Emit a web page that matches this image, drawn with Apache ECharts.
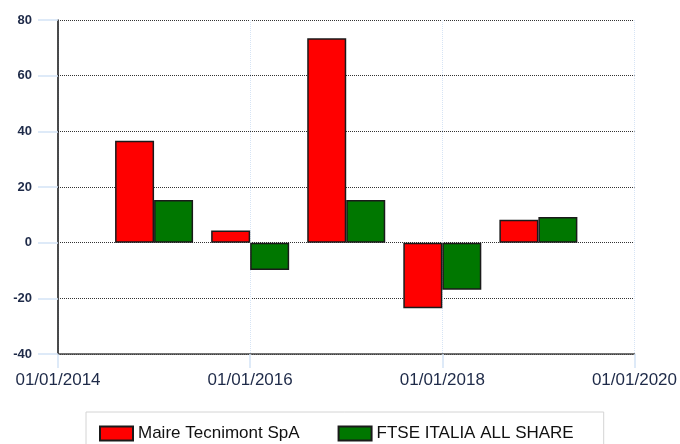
<!DOCTYPE html>
<html>
<head>
<meta charset="utf-8">
<script src="https://cdn.jsdelivr.net/npm/echarts@6/dist/echarts.min.js"></script>
<style>
  html, body { margin: 0; padding: 0; background: #fff; }
  #main { width: 680px; height: 444px; }
</style>
</head>
<body>
<div id="main"></div>
<script>
    // yearly performance, bars placed at 01/01 of each year
    var years = [2015, 2016, 2017, 2018, 2019];
    var maire = [36.6, 4.4, 73.4, -23.6, 8.2];
    var ftse = [15.3, -9.8, 15.3, -16.9, 9.2];
    var seriesNames = ['Maire Tecnimont SpA', 'FTSE ITALIA ALL SHARE'];

    function pairs(vals) {
        return years.map(function (y, i) { return [y, vals[i]]; });
    }

    var myChart = echarts.init(document.getElementById('main'));
    var option = {
        animation: false,
        textStyle: { fontFamily: 'Liberation Sans' },
        grid: { left: 58, top: 20, right: 44, bottom: 90 },
        legend: {
            data: seriesNames,
            icon: 'rect',
            left: 86,
            top: 412,
            padding: [13, 30, 13, 13],
            itemGap: 38,
            itemWidth: 33,
            itemHeight: 14,
            borderColor: '#d4d4d4',
            borderWidth: 1,
            textStyle: { fontSize: 17, color: '#111', fontFamily: 'Liberation Sans' }
        },
        xAxis: {
            type: 'value',
            min: 2014,
            max: 2020,
            interval: 2,
            axisLine: { onZero: false, lineStyle: { color: '#444', width: 1.5 } },
            axisTick: { show: true, length: 14, lineStyle: { color: '#d3e3f6', width: 1.5 } },
            axisLabel: {
                margin: 18,
                fontSize: 17,
                color: '#1e2a48',
                formatter: function (v) { return '01/01/' + v; }
            },
            splitLine: { show: true, lineStyle: { color: '#d6e4f5', type: 'dotted', width: 1 } }
        },
        yAxis: {
            type: 'value',
            min: -40,
            max: 80,
            interval: 20,
            axisLine: { show: true, onZero: false, lineStyle: { color: '#111', width: 1.5 } },
            axisTick: { show: true, length: 20, lineStyle: { color: '#d3e3f6', width: 1.5 } },
            axisLabel: { margin: 26, fontSize: 13, fontWeight: 'bold', color: '#1e2a48' },
            splitLine: { lineStyle: { color: '#333', type: 'dotted', width: 1 } }
        },
        series: [
            {
                name: seriesNames[0],
                type: 'bar',
                data: pairs(maire),
                barWidth: 39,
                barGap: '0%',
                itemStyle: { color: '#ff0000', borderColor: '#1a1a1a', borderWidth: 1.5 }
            },
            {
                name: seriesNames[1],
                type: 'bar',
                data: pairs(ftse),
                barWidth: 39,
                barGap: '0%',
                itemStyle: { color: '#007700', borderColor: '#1a1a1a', borderWidth: 1.5 }
            }
        ]
    };
    myChart.setOption(option);
</script>
</body>
</html>
